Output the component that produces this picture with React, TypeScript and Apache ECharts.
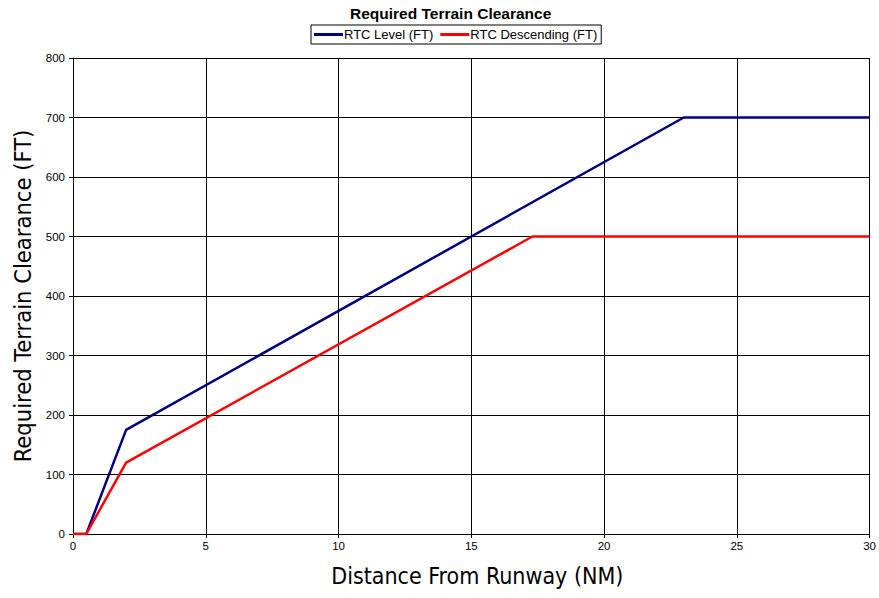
import React, { useEffect, useRef } from "react";
import * as echarts from "echarts";

const levelX = [0, 0.5, 2, 23, 30];
const levelY = [0, 0, 175, 700, 700];
const descX = [0, 0.5, 2, 17.3, 30];
const descY = [0, 0, 120, 500, 500];
const seriesNames = ["RTC Level (FT)", "RTC Descending (FT)"];

export default function App() {
  const ref = useRef<HTMLDivElement>(null);
  useEffect(() => {
    const chart = echarts.init(ref.current!, null, { renderer: "svg" });
    const axisFont = "Liberation Sans, Arial, sans-serif";
    const nameFont = "Liberation Sans Narrow, DejaVu Sans Condensed, Open Sans, sans-serif";
    chart.setOption({
      animation: false,
      backgroundColor: "#fff",
      title: {
        text: "Required Terrain Clearance",
        left: 345,
        top: 0,
        textStyle: { fontFamily: axisFont, fontSize: 15.5, fontWeight: "bold", color: "#000" },
      },
      legend: {
        top: 25,
        left: 311,
        data: seriesNames,
        borderColor: "#000",
        borderWidth: 1,
        padding: [3, 4, 3, 3],
        itemGap: 7,
        itemWidth: 29,
        itemHeight: 3,
        icon: "rect",
        textStyle: { fontFamily: axisFont, fontSize: 13, color: "#000", padding: [0, 0, 0, -4] },
      },
      grid: { left: 73, right: 9, top: 58, bottom: 64, containLabel: false },
      xAxis: {
        type: "value",
        min: 0,
        max: 30,
        interval: 5,
        name: "Distance From Runway (NM)",
        nameLocation: "middle",
        nameGap: 30,
        nameTextStyle: { fontFamily: nameFont, fontSize: 23, color: "#000", padding: [0, 0, 0, 12] },
        axisLine: { lineStyle: { color: "#000", width: 1 } },
        axisTick: { show: true, length: 4, lineStyle: { color: "#000" } },
        axisLabel: { fontFamily: axisFont, fontSize: 11.5, color: "#000", margin: 6 },
        splitLine: { show: true, lineStyle: { color: "#000", width: 1 } },
      },
      yAxis: {
        type: "value",
        min: 0,
        max: 800,
        interval: 100,
        name: "Required Terrain Clearance (FT)",
        nameLocation: "middle",
        nameGap: 23,
        nameTextStyle: { fontFamily: nameFont, fontSize: 23.5, color: "#000" },
        axisLine: { show: true, lineStyle: { color: "#000", width: 1 } },
        axisTick: { show: true, length: 4, lineStyle: { color: "#000" } },
        axisLabel: { fontFamily: axisFont, fontSize: 11.5, color: "#000", margin: 8 },
        splitLine: { show: true, lineStyle: { color: "#000", width: 1 } },
      },
      series: [
        {
          name: seriesNames[0],
          type: "line",
          data: levelX.map((x, i) => [x, levelY[i]]),
          showSymbol: false,
          symbol: "none",
          color: "#000080",
          lineStyle: { color: "#000080", width: 2.5 },
        },
        {
          name: seriesNames[1],
          type: "line",
          data: descX.map((x, i) => [x, descY[i]]),
          showSymbol: false,
          symbol: "none",
          color: "#ff0000",
          lineStyle: { color: "#ff0000", width: 2.5 },
        },
      ],
    });
    return () => chart.dispose();
  }, []);
  return <div ref={ref} style={{ width: 879, height: 598, position: "absolute", left: 0, top: 0 }} />;
}
